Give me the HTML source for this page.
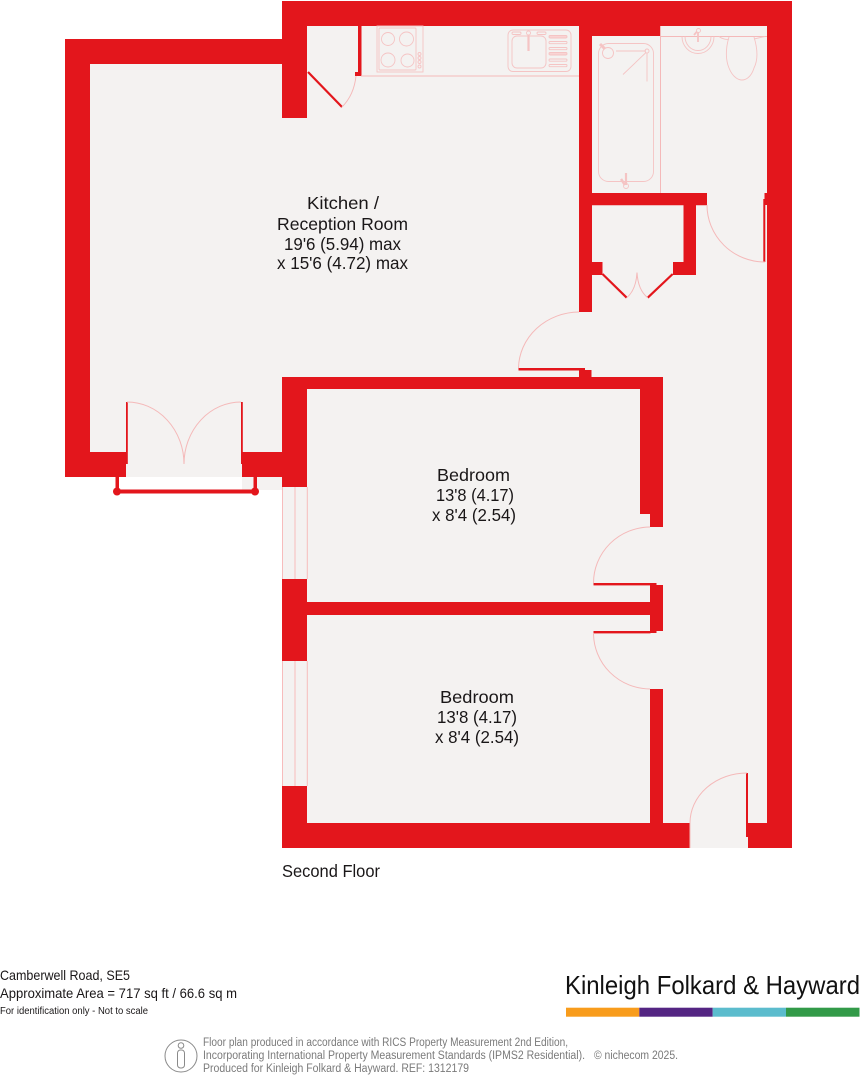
<!DOCTYPE html>
<html><head><meta charset="utf-8"><style>
html,body{margin:0;padding:0;background:#fff}
svg{display:block}
text{font-family:"Liberation Sans",sans-serif;fill:#1a1718}
.t{font-size:17.5px}
.g{font-size:11.5px;fill:#7a7a7a}
.l{fill:none;stroke:#f4b9b9;stroke-width:1}
.k{fill:none;stroke:#f5c4c4;stroke-width:.9}
</style></head><body>
<svg width="861" height="1075" viewBox="0 0 861 1075" xmlns="http://www.w3.org/2000/svg">
<rect width="861" height="1075" fill="#fff"/>
<!-- floor -->
<path d="M90 64H307V26H767V823H748V848H690V823H307V490H242V477H126V452H90Z" fill="#f4f2f1"/>
<rect x="282" y="487" width="25" height="299" fill="#f4f2f1"/>
<!-- walls -->
<g fill="#e3161c">
<path d="M282 1H792V848H748V823H767V26H307V118H282V64H90V452H126V477H65V39H282Z"/>
<path d="M242 452H282V377H663V527H650V514H640V389H307V487H282V477H242Z"/>
<rect x="282" y="579" width="25" height="82"/>
<rect x="282" y="786" width="25" height="62"/>
<rect x="282" y="823" width="408" height="25"/>
<rect x="307" y="602" width="343" height="13"/>
<path d="M650 583H656.500V585H663V631H656.500V633H650Z"/>
<rect x="650" y="689" width="13" height="134"/>
<!-- kitchen partition -->
<path d="M358 26H361.500V76H355V72H358Z"/>
<!-- bathroom / cupboard walls -->
<path d="M579 26H660.500V36H592V193H707V205.300H696V275H673V262H683.500V205.300H592V262H602.500V275H592V312H579Z"/>
<path d="M518.500 368H585V370H591.500V377H579V370.500H518.500Z"/>
<path d="M764.500 193H767V205H765.300V262H763.300V199H764.500Z"/>
<rect x="746" y="773" width="2" height="64"/>
<rect x="126" y="402" width="1.800" height="62"/>
<rect x="241" y="402" width="1.800" height="62"/>
<rect x="593.500" y="583" width="57" height="2.400"/>
<rect x="593.500" y="631" width="57" height="2.400"/>
<!-- balcony -->
<rect x="115.500" y="477" width="3.500" height="15"/>
<rect x="253.500" y="477" width="3.500" height="15"/>
<rect x="117" y="489.500" width="138" height="4"/>
<circle cx="117" cy="491.500" r="4"/>
<circle cx="255" cy="491.500" r="4"/>
</g>
<!-- door leaves -->
<g stroke="#e3161c" stroke-width="2.200" fill="none">
<path d="M308 72L342 107"/>
<path d="M602.500 274L626.700 297.700"/>
<path d="M672.700 274L647.700 297.700"/>
</g>
<!-- arcs -->
<g class="l">
<path d="M342 107Q354 95 356 76"/>
<path d="M626.700 297.700Q636 290 637 272.500Q638 290 647.700 297.700"/>
<path d="M579 312A61 57 0 0 0 518.500 368"/>
<path d="M707 205A58 57 0 0 0 765 262"/>
<path d="M127 402A57 62 0 0 1 184 464A57 62 0 0 1 241 402"/>
<path d="M650 527A57 56 0 0 0 593.500 583"/>
<path d="M593.500 633A57 56 0 0 0 650 689"/>
<path d="M747 773A57 50 0 0 0 690 823V848"/>
<path d="M361 76H579"/>
<path d="M660.500 26V193"/>
<path d="M660.500 36.500H767"/>
<path d="M282.500 487V579M295 487V579M307.300 487V579M282.500 661V786M295 661V786M307.300 661V786" stroke="#f7bcbc"/>
</g>
<!-- hob -->
<g class="k">
<rect x="377" y="26" width="46" height="46"/>
<rect x="379" y="28" width="37" height="42" rx="1"/>
<circle cx="388" cy="39" r="6.500"/><circle cx="406.500" cy="39" r="7"/>
<circle cx="388" cy="60" r="7"/><circle cx="407.500" cy="60.500" r="6.500"/>
<circle cx="419.500" cy="54" r="1.500"/><circle cx="419.500" cy="58" r="1.500"/><circle cx="419.500" cy="62" r="1.500"/><circle cx="419.500" cy="66.500" r="1.500"/>
<!-- sink -->
<rect x="508" y="30" width="63" height="41.500" rx="5"/>
<rect x="512" y="36" width="34" height="32" rx="5"/>
<rect x="512" y="32" width="9" height="2.500" rx="1.200"/>
<rect x="537" y="32" width="9" height="2.500" rx="1.200"/>
<circle cx="528.500" cy="33" r="2"/>
<path d="M528.500 35V51" stroke-width="2.200"/>
<rect x="549" y="35.500" width="18" height="2.500" rx="1.200" fill="#f9d4d4"/>
<rect x="549" y="41.500" width="18" height="2.200" rx="1.100"/>
<rect x="549" y="47.500" width="18" height="2.200" rx="1.100"/>
<rect x="549" y="52.500" width="18" height="2.500" rx="1.200" fill="#f9d4d4"/>
<rect x="549" y="59" width="18" height="2.200" rx="1.100"/>
<rect x="549" y="64.500" width="18" height="2.200" rx="1.100"/>
<!-- bath -->
<rect x="598.500" y="43.500" width="55" height="138" rx="10"/>
<circle cx="608" cy="53" r="5.500"/>
<path d="M600 44L605 49" stroke-width="3"/>
<path d="M616 51H646"/><circle cx="647" cy="51" r="2"/>
<path d="M646 52.500L623 74.500M647 53V81.500"/>
<path d="M626 173V185" stroke-width="2.200"/>
<circle cx="626" cy="186" r="2.500"/>
<path d="M621 179L625 185" stroke-width="2.500"/>
<!-- basin -->
<path d="M682 36.500A16 17 0 0 0 714 36.500"/>
<path d="M685 36.500A13 14 0 0 0 711 36.500"/>
<circle cx="698.500" cy="30.500" r="2"/>
<path d="M698 32V42" stroke-width="1.800"/>
<path d="M694 35L697 31.500" stroke-width="1.800"/>
<!-- wc -->
<path d="M729 37C725 50 726 61 729 68C733 78 739 80 742 80C745 80 751 78 754 68C758 60 758 50 754 37"/>
<path d="M719 36.500C722 39 727 40 729 39M754 39L765 36.500"/>
</g>
<!-- labels -->
<text class="t" x="307" y="209" textLength="72" lengthAdjust="spacingAndGlyphs">Kitchen /</text>
<text class="t" x="277" y="230" textLength="131" lengthAdjust="spacingAndGlyphs">Reception Room</text>
<text class="t" x="284" y="250" textLength="117" lengthAdjust="spacingAndGlyphs">19'6 (5.94) max</text>
<text class="t" x="277" y="269" textLength="131" lengthAdjust="spacingAndGlyphs">x 15'6 (4.72) max</text>
<text class="t" x="437" y="481" textLength="73" lengthAdjust="spacingAndGlyphs">Bedroom</text>
<text class="t" x="436" y="501" textLength="78" lengthAdjust="spacingAndGlyphs">13'8 (4.17)</text>
<text class="t" x="432" y="521" textLength="84" lengthAdjust="spacingAndGlyphs">x 8'4 (2.54)</text>
<text class="t" x="440" y="703" textLength="74" lengthAdjust="spacingAndGlyphs">Bedroom</text>
<text class="t" x="437" y="723" textLength="80" lengthAdjust="spacingAndGlyphs">13'8 (4.17)</text>
<text class="t" x="435" y="743" textLength="84" lengthAdjust="spacingAndGlyphs">x 8'4 (2.54)</text>
<text class="t" x="282" y="877" textLength="98" lengthAdjust="spacingAndGlyphs">Second Floor</text>
<!-- footer -->
<text x="0" y="980" font-size="14" textLength="130" lengthAdjust="spacingAndGlyphs">Camberwell Road, SE5</text>
<text x="0" y="998" font-size="14" textLength="237" lengthAdjust="spacingAndGlyphs">Approximate Area = 717 sq ft / 66.6 sq m</text>
<text x="0" y="1014" font-size="10" textLength="148" lengthAdjust="spacingAndGlyphs">For identification only - Not to scale</text>
<text x="565" y="994" font-size="26" textLength="295" lengthAdjust="spacingAndGlyphs" style="fill:#111">Kinleigh Folkard &amp; Hayward</text>
<rect x="566" y="1007.700" width="73.300" height="9" fill="#f89c1c"/>
<rect x="639.300" y="1007.700" width="73.400" height="9" fill="#542583"/>
<rect x="712.700" y="1007.700" width="73.300" height="9" fill="#5bbccd"/>
<rect x="786" y="1007.700" width="73.500" height="9" fill="#329a48"/>
<!-- icon -->
<g fill="none" stroke="#8a8a8a" stroke-width="1">
<circle cx="181" cy="1056" r="16"/>
<circle cx="181" cy="1045.500" r="2.800"/>
<rect x="177.500" y="1050" width="7" height="18" rx="3"/>
</g>
<text class="g" x="203" y="1046" textLength="365" lengthAdjust="spacingAndGlyphs">Floor plan produced in accordance with RICS Property Measurement 2nd Edition,</text>
<text class="g" x="203" y="1059" textLength="382" lengthAdjust="spacingAndGlyphs">Incorporating International Property Measurement Standards (IPMS2 Residential).</text>
<text class="g" x="594" y="1059" textLength="84" lengthAdjust="spacingAndGlyphs">© nichecom 2025.</text>
<text class="g" x="203" y="1072" textLength="266" lengthAdjust="spacingAndGlyphs">Produced for Kinleigh Folkard &amp; Hayward.   REF: 1312179</text>
</svg>
</body></html>
